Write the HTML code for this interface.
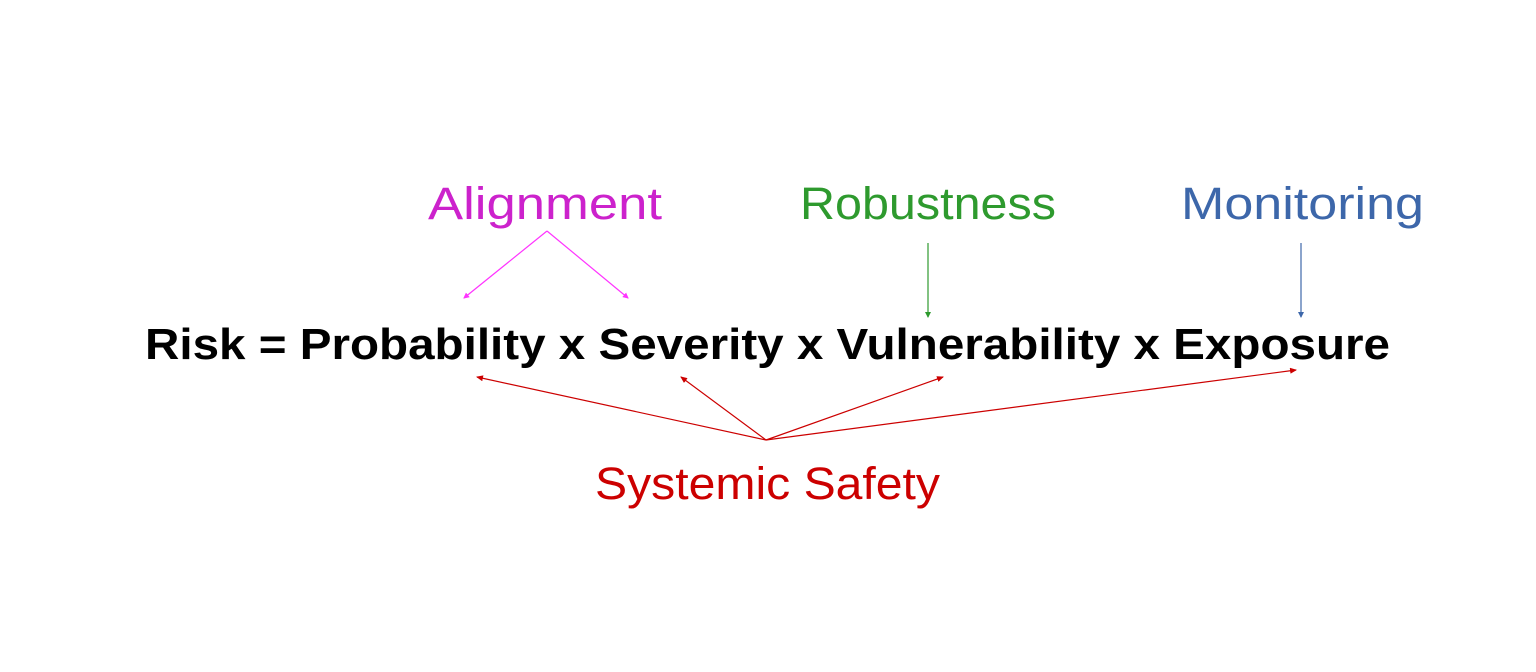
<!DOCTYPE html>
<html><head><meta charset="utf-8"><style>html,body{margin:0;padding:0;background:#fff}svg{display:block}</style></head>
<body>
<svg width="1536" height="672" viewBox="0 0 1536 672" xmlns="http://www.w3.org/2000/svg" font-family="Liberation Sans, sans-serif">
<defs>
<marker id="mm" markerWidth="6" markerHeight="6" refX="5" refY="3" orient="auto" markerUnits="userSpaceOnUse"><path d="M0,0 L6,3 L0,6 z" fill="#ff33ff"/></marker>
<marker id="mg" markerWidth="6" markerHeight="6" refX="5" refY="3" orient="auto" markerUnits="userSpaceOnUse"><path d="M0,0 L6,3 L0,6 z" fill="#2e9a2e"/></marker>
<marker id="mb" markerWidth="6" markerHeight="6" refX="5" refY="3" orient="auto" markerUnits="userSpaceOnUse"><path d="M0,0 L6,3 L0,6 z" fill="#3d67aa"/></marker>
<marker id="mr" markerWidth="7" markerHeight="6" refX="6" refY="3" orient="auto" markerUnits="userSpaceOnUse"><path d="M0,0 L7,3 L0,6 z" fill="#cc0000"/></marker>
</defs>
<text x="428" y="219" font-size="45" fill="#cc22cc" textLength="234" lengthAdjust="spacingAndGlyphs">Alignment</text>
<text x="800" y="219" font-size="45" fill="#2e9a2e" textLength="256" lengthAdjust="spacingAndGlyphs">Robustness</text>
<text x="1181" y="219" font-size="45" fill="#3d67aa" textLength="243" lengthAdjust="spacingAndGlyphs">Monitoring</text>
<text x="145" y="359" font-size="44" font-weight="bold" fill="#000" textLength="1245" lengthAdjust="spacingAndGlyphs">Risk = Probability x Severity x Vulnerability x Exposure</text>
<text x="595" y="499" font-size="45" fill="#cc0000" textLength="345" lengthAdjust="spacingAndGlyphs">Systemic Safety</text>
<g fill="none" stroke-width="1.2">
<line x1="547" y1="231" x2="464" y2="298" stroke="#ff33ff" marker-end="url(#mm)"/>
<line x1="547" y1="231" x2="628" y2="298" stroke="#ff33ff" marker-end="url(#mm)"/>
<line x1="928" y1="243" x2="928" y2="317" stroke="#2e9a2e" marker-end="url(#mg)"/>
<line x1="1301" y1="243" x2="1301" y2="317" stroke="#3d67aa" marker-end="url(#mb)"/>
<line x1="766" y1="440" x2="477" y2="377" stroke="#cc0000" marker-end="url(#mr)"/>
<line x1="766" y1="440" x2="681" y2="377" stroke="#cc0000" marker-end="url(#mr)"/>
<line x1="766" y1="440" x2="943" y2="377" stroke="#cc0000" marker-end="url(#mr)"/>
<line x1="766" y1="440" x2="1296" y2="370" stroke="#cc0000" marker-end="url(#mr)"/>
</g>
</svg>
</body></html>
